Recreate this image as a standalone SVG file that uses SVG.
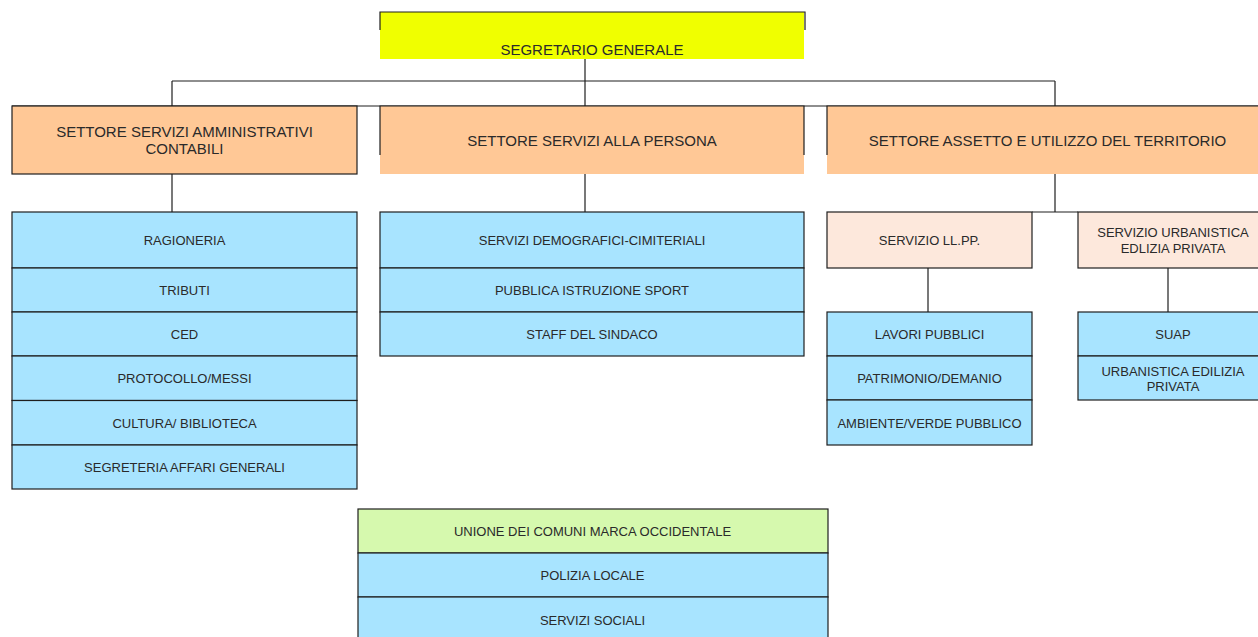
<svg xmlns="http://www.w3.org/2000/svg" width="1258" height="637" viewBox="0 0 1258 637">
<style>
text{font-family:"Liberation Sans",Arial,sans-serif;fill:#2a2a2a;text-anchor:middle}
.big{font-size:15px}
.sm{font-size:13px}
.ln{stroke:#1e1e1e;stroke-width:1.2;fill:none}
.bx{stroke:#1e1e1e;stroke-width:1.2}
.blue{fill:#a8e4ff}
.peach{fill:#ffc896}
.pink{fill:#fde8dc}
.green{fill:#d6f9ae}
</style>
<rect width="1258" height="637" fill="#ffffff"/>
<g id="connectors">
<line class="ln" x1="585" y1="59" x2="585" y2="106"/>
<line class="ln" x1="172" y1="81" x2="1055" y2="81"/>
<line class="ln" x1="172" y1="81" x2="172" y2="106"/>
<line class="ln" x1="1055" y1="81" x2="1055" y2="106"/>
<line class="ln" x1="12" y1="106" x2="1258" y2="106"/>
<line class="ln" x1="172" y1="174" x2="172" y2="212"/>
<line class="ln" x1="585" y1="174" x2="585" y2="212"/>
<line class="ln" x1="1055" y1="174" x2="1055" y2="212"/>
<line class="ln" x1="1032" y1="212" x2="1078" y2="212"/>
<line class="ln" x1="928" y1="268" x2="928" y2="312"/>
<line class="ln" x1="1168" y1="268" x2="1168" y2="312"/>
</g>
<g id="segretario">
<rect x="380" y="12" width="424" height="47" fill="#f0ff00"/>
<path class="ln" d="M380 30V12H805V30"/>
<text class="big" x="592" y="55">SEGRETARIO GENERALE</text>
</g>
<g id="settore-amministrativi">
<rect class="bx peach" x="12" y="106" width="345" height="68"/>
<text class="big" x="184.5" y="137">SETTORE SERVIZI AMMINISTRATIVI</text>
<text class="big" x="184.5" y="154">CONTABILI</text>
</g>
<g id="settore-persona">
<rect class="peach" x="380" y="106" width="424" height="68"/>
<path class="ln" d="M380 155V106H804V155"/>
<text class="big" x="592" y="146">SETTORE SERVIZI ALLA PERSONA</text>
</g>
<g id="settore-territorio">
<rect class="peach" x="827" y="106" width="431" height="68"/>
<path class="ln" d="M827 155V106H1258"/>
<text class="big" x="1047.5" y="146">SETTORE ASSETTO E UTILIZZO DEL TERRITORIO</text>
</g>
<g id="col1">
<rect class="bx blue" x="12" y="212" width="345" height="56"/>
<text class="sm" x="184.5" y="245">RAGIONERIA</text>
<rect class="bx blue" x="12" y="268" width="345" height="44"/>
<text class="sm" x="184.5" y="295">TRIBUTI</text>
<rect class="bx blue" x="12" y="312" width="345" height="44"/>
<text class="sm" x="184.5" y="339">CED</text>
<rect class="bx blue" x="12" y="356" width="345" height="44.5"/>
<text class="sm" x="184.5" y="383">PROTOCOLLO/MESSI</text>
<rect class="bx blue" x="12" y="400.5" width="345" height="44.5"/>
<text class="sm" x="184.5" y="427.5">CULTURA/ BIBLIOTECA</text>
<rect class="bx blue" x="12" y="445" width="345" height="44"/>
<text class="sm" x="184.5" y="471.5">SEGRETERIA AFFARI GENERALI</text>
</g>
<g id="col2">
<rect class="bx blue" x="380" y="212" width="424" height="56"/>
<text class="sm" x="592" y="245">SERVIZI DEMOGRAFICI-CIMITERIALI</text>
<rect class="bx blue" x="380" y="268" width="424" height="44"/>
<text class="sm" x="592" y="295">PUBBLICA ISTRUZIONE SPORT</text>
<rect class="bx blue" x="380" y="312" width="424" height="44"/>
<text class="sm" x="592" y="339">STAFF DEL SINDACO</text>
</g>
<g id="servizio-llpp">
<rect class="bx pink" x="827" y="212" width="205" height="56"/>
<text class="sm" x="929.5" y="245">SERVIZIO LL.PP.</text>
</g>
<g id="servizio-urbanistica">
<rect class="bx pink" x="1078" y="212" width="190" height="56"/>
<text class="sm" x="1173" y="236.5">SERVIZIO URBANISTICA</text>
<text class="sm" x="1173" y="252.5">EDLIZIA PRIVATA</text>
</g>
<g id="llpp-uffici">
<rect class="bx blue" x="827" y="312" width="205" height="44"/>
<text class="sm" x="929.5" y="338.5">LAVORI PUBBLICI</text>
<rect class="bx blue" x="827" y="356" width="205" height="44"/>
<text class="sm" x="929.5" y="383">PATRIMONIO/DEMANIO</text>
<rect class="bx blue" x="827" y="400" width="205" height="45"/>
<text class="sm" x="929.5" y="427.5">AMBIENTE/VERDE PUBBLICO</text>
</g>
<g id="urbanistica-uffici">
<rect class="bx blue" x="1078" y="312" width="190" height="44"/>
<text class="sm" x="1173" y="338.5">SUAP</text>
<rect class="bx blue" x="1078" y="356" width="190" height="44"/>
<text class="sm" x="1173" y="376">URBANISTICA EDILIZIA</text>
<text class="sm" x="1173" y="390.5">PRIVATA</text>
</g>
<g id="unione">
<rect class="bx green" x="358" y="509" width="470" height="44"/>
<text class="sm" x="592.5" y="535.5">UNIONE DEI COMUNI MARCA OCCIDENTALE</text>
<rect class="bx blue" x="358" y="553" width="470" height="44"/>
<text class="sm" x="592.5" y="580">POLIZIA LOCALE</text>
<rect class="bx blue" x="358" y="597" width="470" height="50"/>
<text class="sm" x="592.5" y="624.5">SERVIZI SOCIALI</text>
</g>
</svg>
